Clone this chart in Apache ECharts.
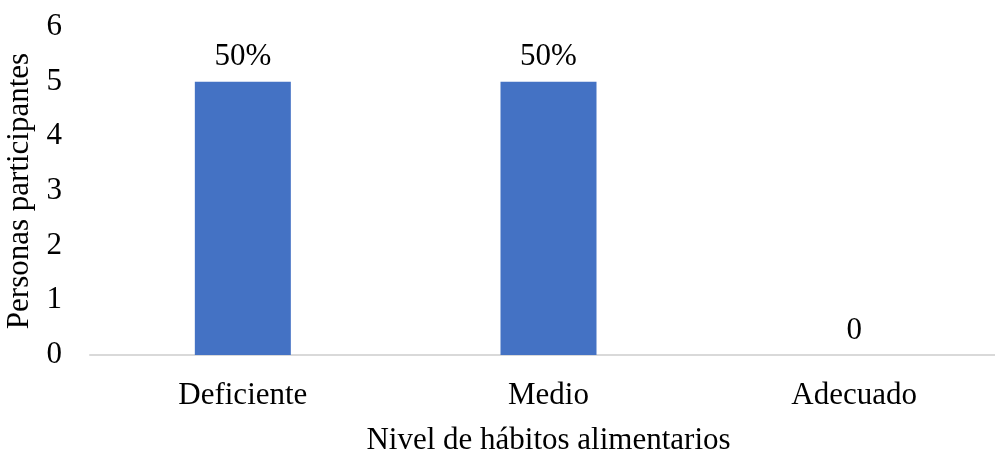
<!DOCTYPE html>
<html>
<head>
<meta charset="utf-8">
<title>chart</title>
<style>
  html, body { margin: 0; padding: 0; width: 100%; height: 100%; background: #fff; }
  #main { width: 995px; height: 451px; }
</style>
</head>
<body>
<div id="main"></div>
<script src="https://cdn.jsdelivr.net/npm/echarts@6/dist/echarts.min.js"></script>
<script>
var categories = ['Deficiente', 'Medio', 'Adecuado'];
var values = [5, 5, 0];
var barLabels = ['50%', '50%', '0'];

var font = 'Liberation Serif';
var fs = 31;
var chart = echarts.init(document.getElementById('main'));

chart.setOption({
  animation: false,
  backgroundColor: '#ffffff',
  textStyle: { fontFamily: font, color: '#000' },
  grid: { left: 90, right: -12, top: 27, bottom: 96, outerBoundsMode: 'none', containLabel: false },
  xAxis: {
    type: 'category',
    data: categories,
    name: 'Nivel de hábitos alimentarios',
    nameLocation: 'middle',
    nameGap: 70,
    nameTextStyle: { fontFamily: font, fontSize: fs, color: '#000', align: 'center', padding: [0, 0, 0, 0] },
    axisLine: { lineStyle: { color: '#d9d9d9', width: 2 } },
    axisTick: { show: false },
    axisLabel: { fontFamily: font, fontSize: fs, color: '#000', margin: 25 }
  },
  yAxis: {
    type: 'value',
    min: 0,
    max: 6,
    interval: 1,
    name: 'Personas participantes',
    nameLocation: 'middle',
    nameGap: 52,
    nameTextStyle: { fontFamily: font, fontSize: fs, color: '#000' },
    axisLine: { show: false },
    axisTick: { show: false },
    splitLine: { show: false },
    axisLabel: { fontFamily: font, fontSize: fs, color: '#000', margin: 28 }
  },
  series: [{
    type: 'bar',
    data: values,
    barWidth: 96,
    itemStyle: { color: '#4472c4' },
    label: {
      show: true,
      position: 'top',
      distance: 9,
      fontFamily: font,
      fontSize: fs,
      color: '#000',
      formatter: function (p) { return barLabels[p.dataIndex]; }
    }
  }]
});
</script>
</body>
</html>
